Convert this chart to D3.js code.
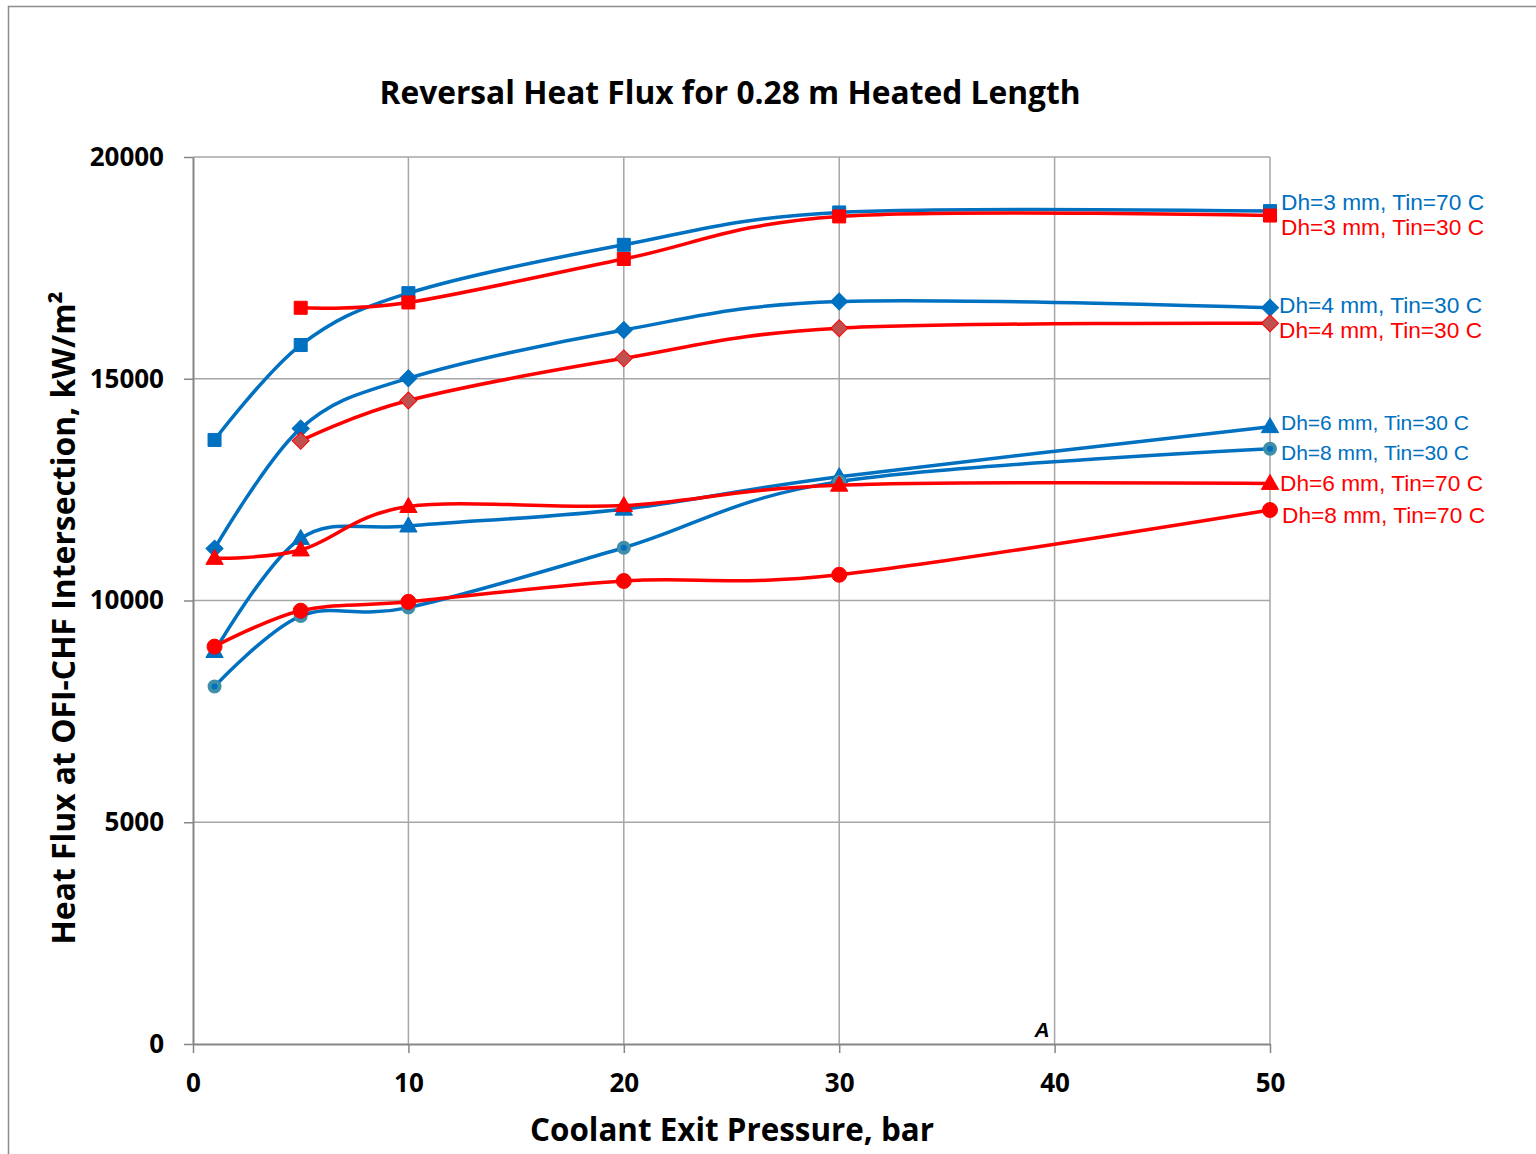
<!DOCTYPE html>
<html>
<head>
<meta charset="utf-8">
<script src="https://cdn.jsdelivr.net/npm/d3@7"></script>
<style>
  body { margin: 0; background: #fff; }
  .tickText { font-family: "Open Sans", Lato, sans-serif; font-weight: bold; font-size: 26px; fill: #000; }
  .axisTitle { font-family: "Open Sans", Lato, sans-serif; font-weight: bold; fill: #000; }
  .seriesLabel { font-family: "Liberation Sans", Arial, sans-serif; }
</style>
</head>
<body>
<div id="chart"></div>
<script>
// chart values
var pressureAll = [1, 5, 10, 20, 30, 50];
var pressureFrom5 = [5, 10, 20, 30, 50];

var dh3Tin70 = [13620, 15760, 16930, 18020, 18750, 18780];
var dh3Tin30 = [16600, 16720, 17700, 18660, 18680];
var dh4Tin30Blue = [11170, 13880, 15010, 16100, 16740, 16600];
var dh4Tin30Red = [13600, 14510, 15460, 16140, 16250];
var dh6Tin30 = [8850, 11400, 11680, 12060, 12790, 13920];
var dh8Tin30 = [8060, 9650, 9840, 11190, 12680, 13420];
var dh6Tin70 = [10950, 11140, 12120, 12140, 12600, 12640];
var dh8Tin70 = [8960, 9770, 9970, 10440, 10580, 12040];

var seriesNames = [
  "Dh=3 mm, Tin=70 C", "Dh=3 mm, Tin=30 C",
  "Dh=4 mm, Tin=30 C", "Dh=4 mm, Tin=30 C",
  "Dh=6 mm, Tin=30 C", "Dh=8 mm, Tin=30 C",
  "Dh=6 mm, Tin=70 C", "Dh=8 mm, Tin=70 C"
];

var xTicks = [0, 10, 20, 30, 40, 50];
var yTicks = [0, 5000, 10000, 15000, 20000];

var chartTitle = "Reversal Heat Flux for 0.28 m Heated Length";
var xTitle = "Coolant Exit Pressure, bar";
var yTitle = "Heat Flux at OFI-CHF Intersection, kW/m\u00B2";

var BLUE = "#0070C0";
var RED = "#FF0000";

// styles for each series (marker shape, colours, label nudges)
var seriesStyle = [
  { x: pressureAll,   y: dh3Tin70,     color: BLUE, shape: "square",   fill: BLUE,      stroke: BLUE,      labelDx: 11, labelDy: -1,  labelSize: 22.7 },
  { x: pressureFrom5, y: dh3Tin30,     color: RED,  shape: "square",   fill: RED,       stroke: RED,       labelDx: 11, labelDy: 19,  labelSize: 22.7 },
  { x: pressureAll,   y: dh4Tin30Blue, color: BLUE, shape: "diamond",  fill: BLUE,      stroke: BLUE,      labelDx: 9,  labelDy: 5,   labelSize: 22.7 },
  { x: pressureFrom5, y: dh4Tin30Red,  color: RED,  shape: "diamond",  fill: "#C0504D", stroke: RED,       labelDx: 9,  labelDy: 15,  labelSize: 22.7 },
  { x: pressureAll,   y: dh6Tin30,     color: BLUE, shape: "triangle", fill: BLUE,      stroke: BLUE,      labelDx: 11, labelDy: 3,   labelSize: 21 },
  { x: pressureAll,   y: dh8Tin30,     color: BLUE, shape: "circle",   fill: BLUE,      stroke: "#3F8FA8", labelDx: 11, labelDy: 11,  labelSize: 21 },
  { x: pressureAll,   y: dh6Tin70,     color: RED,  shape: "triangle", fill: RED,       stroke: RED,       labelDx: 10, labelDy: 8,   labelSize: 22.7 },
  { x: pressureAll,   y: dh8Tin70,     color: RED,  shape: "circleBig",fill: RED,       stroke: RED,       labelDx: 12, labelDy: 13,  labelSize: 22.7 }
];

var svgWidth = 1536;
var svgHeight = 1154;
var margin = { top: 157, right: 266, bottom: 110, left: 193 };
var width = svgWidth - margin.left - margin.right;   // 1077
var height = svgHeight - margin.top - margin.bottom; // 887

var svg = d3.select("#chart")
  .append("svg")
  .attr("width", svgWidth)
  .attr("height", svgHeight);

// outer frame (runs off the right and bottom edge)
svg.append("rect")
  .attr("x", 8.5)
  .attr("y", 6.5)
  .attr("width", 1600)
  .attr("height", 1300)
  .attr("fill", "none")
  .attr("stroke", "#8C8C8C")
  .attr("stroke-width", 1.5);

var chartGroup = svg.append("g")
  .attr("transform", `translate(${margin.left}, ${margin.top})`);

var xScale = d3.scaleLinear().domain([0, 50]).range([0, width]);
var yScale = d3.scaleLinear().domain([0, 20000]).range([height, 0]);

// gridlines
chartGroup.append("g")
  .selectAll("line.vgrid")
  .data(xTicks.slice(1))
  .enter()
  .append("line")
  .attr("x1", d => xScale(d))
  .attr("x2", d => xScale(d))
  .attr("y1", 0)
  .attr("y2", height)
  .attr("stroke", "#A6A6A6")
  .attr("stroke-width", 1.5);

chartGroup.append("g")
  .selectAll("line.hgrid")
  .data(yTicks.slice(1))
  .enter()
  .append("line")
  .attr("x1", 0)
  .attr("x2", width)
  .attr("y1", d => yScale(d))
  .attr("y2", d => yScale(d))
  .attr("stroke", "#A6A6A6")
  .attr("stroke-width", 1.5);

// axes
var xAxis = d3.axisBottom(xScale).tickValues(xTicks).tickSize(9).tickSizeOuter(0).tickPadding(21);
var yAxis = d3.axisLeft(yScale).tickValues(yTicks).tickFormat(d3.format("d")).tickSize(9).tickSizeOuter(0).tickPadding(20);

var xAxisG = chartGroup.append("g")
  .attr("transform", `translate(0, ${height})`)
  .call(xAxis);

var yAxisG = chartGroup.append("g")
  .call(yAxis);

[xAxisG, yAxisG].forEach(function(g) {
  g.selectAll("path").attr("stroke", "#868686").attr("stroke-width", 2);
  g.selectAll("line").attr("stroke", "#868686").attr("stroke-width", 1.5);
  g.selectAll("text").attr("class", "tickText").attr("font-size", null).attr("font-family", null);
});
xAxisG.selectAll("text").attr("dy", "0.7em");

// series
var lineGen = d3.line()
  .x(d => xScale(d[0]))
  .y(d => yScale(d[1]))
  .curve(d3.curveCardinal.tension(0));

function markerPath(shape) {
  if (shape === "square") return d3.symbol().type(d3.symbolSquare).size(169)();
  if (shape === "diamond") return d3.symbol().type(d3.symbolSquare).size(145)();
  if (shape === "triangle") return d3.symbol().type(d3.symbolTriangle).size(130)();
  return null;
}

seriesStyle.forEach(function(s, i) {
  var pts = s.x.map((p, j) => [p, s.y[j]]);
  var g = chartGroup.append("g");

  g.append("path")
    .datum(pts)
    .attr("d", lineGen)
    .attr("fill", "none")
    .attr("stroke", s.color)
    .attr("stroke-width", 3.5)
    .attr("stroke-linejoin", "round");

  var marks = g.selectAll(".mk")
    .data(pts)
    .enter();

  if (s.shape === "circle" || s.shape === "circleBig") {
    marks.append("circle")
      .attr("cx", d => xScale(d[0]))
      .attr("cy", d => yScale(d[1]))
      .attr("r", s.shape === "circle" ? 5 : 7.5)
      .attr("fill", s.fill)
      .attr("stroke", s.stroke)
      .attr("stroke-width", s.shape === "circle" ? 4 : 1);
  } else {
    marks.append("path")
      .attr("d", markerPath(s.shape))
      .attr("transform", d => `translate(${xScale(d[0])}, ${yScale(d[1])})` + (s.shape === "diamond" ? " rotate(45)" : "") + (s.shape === "triangle" ? " translate(0, 1)" : ""))
      .attr("fill", s.fill)
      .attr("stroke", s.stroke)
      .attr("stroke-width", 1);
  }

  // label at the right end of the series
  var last = pts[pts.length - 1];
  chartGroup.append("text")
    .attr("class", "seriesLabel")
    .attr("x", xScale(last[0]) + s.labelDx)
    .attr("y", yScale(last[1]) + s.labelDy)
    .attr("font-size", s.labelSize)
    .attr("fill", s.color)
    .text(seriesNames[i]);
});

// stray "A" near the x axis
chartGroup.append("text")
  .attr("x", xScale(40) - 5)
  .attr("y", height - 7)
  .attr("text-anchor", "end")
  .attr("font-family", "'Liberation Sans', Arial, sans-serif")
  .attr("font-weight", "bold")
  .attr("font-style", "italic")
  .attr("font-size", 21)
  .text("A");

// titles
svg.append("text")
  .attr("class", "axisTitle")
  .attr("x", 730)
  .attr("y", 104)
  .attr("text-anchor", "middle")
  .attr("font-size", 32)
  .attr("textLength", 701)
  .attr("lengthAdjust", "spacingAndGlyphs")
  .text(chartTitle);

svg.append("text")
  .attr("class", "axisTitle")
  .attr("x", 732)
  .attr("y", 1141)
  .attr("text-anchor", "middle")
  .attr("font-size", 32)
  .attr("textLength", 404)
  .attr("lengthAdjust", "spacingAndGlyphs")
  .text(xTitle);

svg.append("text")
  .attr("class", "axisTitle")
  .attr("transform", "translate(75, 618) rotate(-90)")
  .attr("text-anchor", "middle")
  .attr("font-size", 32)
  .attr("textLength", 653)
  .attr("lengthAdjust", "spacingAndGlyphs")
  .text(yTitle);
</script>
</body>
</html>
